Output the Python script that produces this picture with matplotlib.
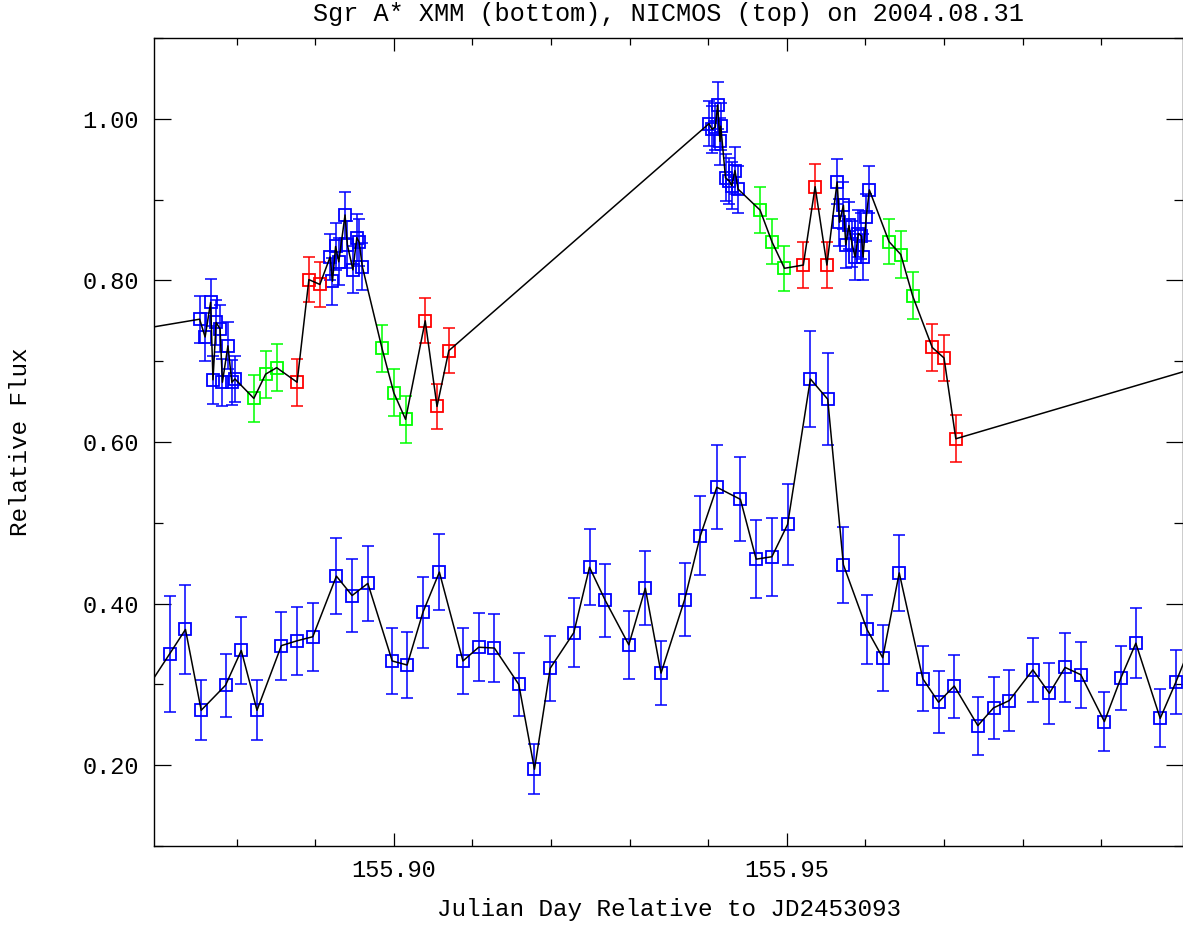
import matplotlib
matplotlib.use('Agg')
import matplotlib.pyplot as plt
from matplotlib.ticker import MultipleLocator, FixedLocator, FormatStrFormatter

plt.rcParams['font.family'] = ['Liberation Mono', 'DejaVu Sans Mono']

# NICMOS (top) - colour code per point: b / g / r
top_x = [155.8753, 155.8760, 155.8767, 155.8770, 155.8774, 155.8779, 155.8782, 155.8789, 155.8794, 155.8798,
         155.8822, 155.8837, 155.8851,
         155.8877, 155.8892, 155.8906,
         155.8919, 155.8922, 155.8926, 155.8930, 155.8938, 155.8941, 155.8948, 155.8953, 155.8956, 155.8960,
         155.8985, 155.9000, 155.9015,
         155.9040, 155.9055, 155.9070,
         155.9401, 155.9405, 155.9409, 155.9412, 155.9415, 155.9416, 155.9422, 155.9427, 155.9430, 155.9434, 155.9438,
         155.9466, 155.9481, 155.9497,
         155.9521, 155.9536, 155.9551,
         155.9564, 155.9567, 155.9572, 155.9575, 155.9579, 155.9583, 155.9587, 155.9591, 155.9595, 155.9597, 155.9601, 155.9605,
         155.9630, 155.9645, 155.9660,
         155.9685, 155.9700, 155.9715]
top_y = [0.752, 0.730, 0.773, 0.677, 0.748, 0.740, 0.674, 0.719, 0.674, 0.678,
         0.654, 0.684, 0.692,
         0.674, 0.801, 0.795,
         0.829, 0.799, 0.842, 0.823, 0.881, 0.844, 0.813, 0.853, 0.847, 0.817,
         0.716, 0.661, 0.628,
         0.750, 0.644, 0.713,
         0.994, 0.987, 0.990, 1.017, 0.972, 0.991, 0.927, 0.923, 0.917, 0.936, 0.913,
         0.887, 0.848, 0.815,
         0.819, 0.916, 0.819,
         0.922, 0.872, 0.893, 0.844, 0.868, 0.845, 0.829, 0.858, 0.855, 0.829, 0.878, 0.912,
         0.848, 0.832, 0.781,
         0.717, 0.704, 0.604]
top_err = [0.029, 0.030, 0.029, 0.030, 0.028, 0.029, 0.029, 0.029, 0.028, 0.029,
           0.029, 0.029, 0.029,
           0.029, 0.028, 0.028,
           0.029, 0.029, 0.029, 0.029, 0.029, 0.029, 0.029, 0.029, 0.029, 0.029,
           0.029, 0.029, 0.029,
           0.028, 0.028, 0.028,
           0.028, 0.029, 0.029, 0.029, 0.029, 0.029, 0.029, 0.029, 0.029, 0.029, 0.029,
           0.028, 0.028, 0.028,
           0.029, 0.028, 0.029,
           0.028, 0.029, 0.029, 0.029, 0.029, 0.029, 0.029, 0.029, 0.029, 0.029, 0.029, 0.029,
           0.028, 0.029, 0.029,
           0.029, 0.029, 0.029]
top_col = (['b'] * 10 + ['g'] * 3 + ['r'] * 3 + ['b'] * 10 + ['g'] * 3 + ['r'] * 3
           + ['b'] * 11 + ['g'] * 3 + ['r'] * 3 + ['b'] * 12 + ['g'] * 3 + ['r'] * 3)
# neighbouring points outside the window (only the connecting line shows)
top_lead = (155.8435, 0.700)
top_tail = (156.0280, 0.766)

# XMM (bottom)
bot_x = [155.8715, 155.8735, 155.8755, 155.8786, 155.8806, 155.8826, 155.8857, 155.8877, 155.8897, 155.8927,
         155.8947, 155.8967, 155.8998, 155.9017, 155.9037, 155.9058, 155.9088, 155.9108, 155.9128, 155.9159,
         155.9179, 155.9199, 155.9229, 155.9249, 155.9269, 155.9299, 155.9320, 155.9340, 155.9370, 155.9390,
         155.9411, 155.9441, 155.9461, 155.9481, 155.9501, 155.9530, 155.9552, 155.9572, 155.9602, 155.9622,
         155.9643, 155.9673, 155.9693, 155.9713, 155.9743, 155.9763, 155.9783, 155.9813, 155.9834, 155.9854,
         155.9874, 155.9904, 155.9925, 155.9944, 155.9975, 155.9995]
bot_y = [0.338, 0.368, 0.268, 0.299, 0.342, 0.268, 0.348, 0.354, 0.359, 0.434,
         0.410, 0.425, 0.329, 0.324, 0.389, 0.439, 0.329, 0.346, 0.345, 0.300,
         0.195, 0.320, 0.364, 0.445, 0.404, 0.349, 0.419, 0.314, 0.405, 0.484,
         0.544, 0.529, 0.455, 0.458, 0.498, 0.678, 0.653, 0.448, 0.368, 0.333,
         0.438, 0.307, 0.278, 0.298, 0.249, 0.271, 0.280, 0.318, 0.289, 0.321,
         0.312, 0.254, 0.308, 0.351, 0.258, 0.303]
bot_err = [0.072, 0.055, 0.037, 0.039, 0.042, 0.037, 0.042, 0.042, 0.042, 0.047,
           0.045, 0.046, 0.041, 0.041, 0.044, 0.047, 0.041, 0.042, 0.042, 0.039,
           0.031, 0.040, 0.043, 0.047, 0.045, 0.042, 0.046, 0.040, 0.045, 0.049,
           0.052, 0.052, 0.048, 0.048, 0.050, 0.059, 0.057, 0.047, 0.043, 0.041,
           0.047, 0.040, 0.038, 0.039, 0.036, 0.038, 0.038, 0.040, 0.038, 0.043,
           0.041, 0.037, 0.040, 0.043, 0.036, 0.040]
bot_lead = (155.8674, 0.277)
bot_tail = (156.0015, 0.351)

x_major = [155.90, 155.95]
x_minor = [155.88, 155.89, 155.91, 155.92, 155.93, 155.94, 155.96, 155.97, 155.98, 155.99]

colors = {'b': '#0000ff', 'g': '#00ff00', 'r': '#ff0000'}

fig = plt.figure(figsize=(11.83, 9.25), dpi=100)
ax = fig.add_axes([0.1302, 0.0854, 0.8698, 0.8735])


def draw(xs, ys, errs, cols, lead, tail):
    for c in ['b', 'g', 'r']:
        idx = [i for i, k in enumerate(cols) if k == c]
        if not idx:
            continue
        px = [xs[i] for i in idx]
        py = [ys[i] for i in idx]
        pe = [errs[i] for i in idx]
        ax.errorbar(px, py, yerr=pe, fmt='none', ecolor=colors[c], elinewidth=1.3,
                    capsize=4, capthick=1.3, alpha=0.85, zorder=2)
        ax.plot(px, py, 's', mfc='none', mec=colors[c], ms=8, mew=1.3, zorder=3)
    lx = [lead[0]] + list(xs) + [tail[0]]
    ly = [lead[1]] + list(ys) + [tail[1]]
    ax.plot(lx, ly, '-', color='black', lw=1.1, zorder=4)


draw(top_x, top_y, top_err, top_col, top_lead, top_tail)
draw(bot_x, bot_y, bot_err, ['b'] * len(bot_x), bot_lead, bot_tail)

ax.set_xlim(155.8695, 156.0004)
ax.set_ylim(0.1, 1.1)
ax.xaxis.set_major_locator(FixedLocator(x_major))
ax.xaxis.set_minor_locator(FixedLocator(x_minor))
ax.yaxis.set_major_locator(MultipleLocator(0.2))
ax.yaxis.set_minor_locator(MultipleLocator(0.1))
ax.xaxis.set_major_formatter(FormatStrFormatter('%.2f'))
ax.yaxis.set_major_formatter(FormatStrFormatter('%.2f'))

ax.tick_params(which='both', direction='in', top=True, right=True, width=0.9, labelsize=17)
ax.tick_params(axis='x', which='major', length=9.5, pad=9)
ax.tick_params(axis='x', which='minor', length=5)
ax.tick_params(axis='y', which='major', length=12.5, pad=11)
ax.tick_params(axis='y', which='minor', length=6.5)
for s in ax.spines.values():
    s.set_linewidth(1.0)

ax.set_title('Sgr A* XMM (bottom), NICMOS (top) on 2004.08.31', fontsize=18.2, pad=12)
ax.set_xlabel('Julian Day Relative to JD2453093', fontsize=17.5, labelpad=12)
ax.set_ylabel('Relative Flux', fontsize=17.5, labelpad=36)

fig.savefig('out.png', dpi=100)
